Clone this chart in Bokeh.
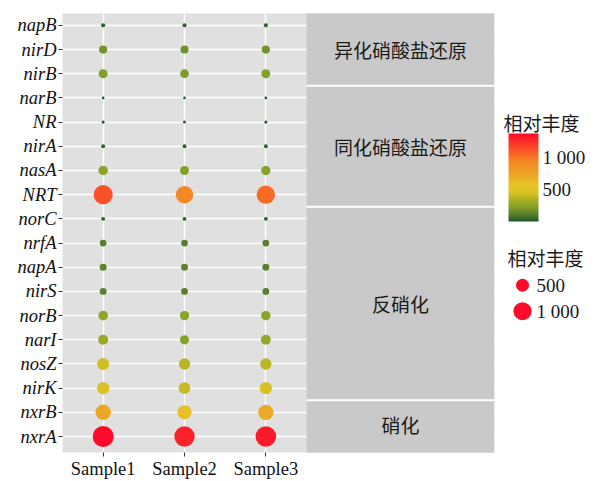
import numpy as np
from bokeh.plotting import figure
from bokeh.models import Range1d, FixedTicker, LinearColorMapper, ColorBar, ColumnDataSource
from bokeh.transform import transform
from bokeh.core.properties import value
from bokeh.embed import file_html
from bokeh.resources import INLINE

# ---------------- data ----------------
# genes listed bottom -> top
genes = ["nxrA", "nxrB", "nirK", "nosZ", "narI", "norB", "nirS", "napA", "nrfA",
         "norC", "NRT", "nasA", "nirA", "NR", "narB", "nirB", "nirD", "napB"]
samples = ["Sample1", "Sample2", "Sample3"]
sample1 = [1375, 720, 450, 420, 280, 260, 120, 125, 115, 30, 1130, 250, 30, 15, 10, 220, 180, 35]
sample2 = [1290, 600, 400, 370, 230, 240, 115, 120, 112, 28, 940, 215, 28, 14, 9, 205, 170, 33]
sample3 = [1320, 710, 440, 370, 270, 245, 115, 122, 114, 29, 1040, 240, 29, 15, 10, 215, 180, 34]
# groups bottom -> top
groups = ["硝化", "反硝化", "同化硝酸盐还原", "异化硝酸盐还原"]
group_sizes = [2, 8, 5, 3]
legend_title = "相对丰度"
legend_sizes = [500, 1000]
legend_size_labels = ["500", "1 000"]
colorbar_ticks = [500, 1000]
colorbar_labels = ["500", "1 000"]

# ---------------- styling ----------------
SERIF = "Liberation Serif"
CJK = "Noto Sans CJK SC"
stops = [(0.00, "#1d5a2b"), (0.08, "#5a7e2e"), (0.16, "#84a028"), (0.24, "#a8ae26"),
         (0.32, "#d8c225"), (0.42, "#e9c526"), (0.52, "#eca828"), (0.68, "#f58a25"),
         (0.80, "#f95a28"), (1.00, "#ff0a28")]


def hex2rgb(h):
    return [int(h[i:i + 2], 16) for i in (1, 3, 5)]


pos = [s[0] for s in stops]
rgb = np.array([hex2rgb(s[1]) for s in stops], dtype=float)
tt = np.linspace(0, 1, 256)
palette = ["#%02x%02x%02x" % tuple(int(round(np.interp(t, pos, rgb[:, k]))) for k in range(3)) for t in tt]

all_vals = sample1 + sample2 + sample3
vmin, vmax = 0, max(all_vals)


def size_of(v):
    return 1 + 20 * np.sqrt((np.asarray(v, dtype=float) - vmin) / (vmax - vmin))


mapper = LinearColorMapper(palette=palette, low=vmin, high=vmax)

# layout (canvas pixels of the plotting frame)
W, H = 595, 481
FL, FR, FT, FB = 62, 595, 13, 454
X0 = 0.5
X1 = 0.5 + (FR - FL) / (244 / 3)
Y0, Y1 = 0.34, 18.49


def px_x(px):
    return X0 + (px - FL) * (X1 - X0) / (FR - FL)


def px_y(py):
    return Y1 - (py - FT) * (Y1 - Y0) / (FB - FT)


p = figure(width=W, height=H, x_range=Range1d(X0, X1), y_range=Range1d(Y0, Y1),
           output_backend="svg", toolbar_location=None,
           min_border_left=FL, min_border_right=0, min_border_top=FT, min_border_bottom=H - FB)
p.background_fill_color = "white"
p.border_fill_color = "white"
p.outline_line_color = None

# grey panel behind the grid
strip_l = 3.5
strip_r = px_x(494)
p.quad(left=X0 - 1, right=strip_r, bottom=Y0 - 1, top=Y1 + 1, fill_color="#e0e0e0",
       line_color=None, level="underlay")

# axes
p.xaxis.ticker = FixedTicker(ticks=[1, 2, 3])
p.xaxis.major_label_overrides = {i + 1: s for i, s in enumerate(samples)}
p.yaxis.ticker = FixedTicker(ticks=list(range(1, len(genes) + 1)))
p.yaxis.major_label_overrides = {i + 1: g for i, g in enumerate(genes)}
for ax in (p.xaxis[0], p.yaxis[0]):
    ax.axis_line_color = None
    ax.major_tick_out = 4
    ax.major_tick_in = 0
    ax.major_tick_line_color = "#333333"
    ax.minor_tick_line_color = None
    ax.major_label_text_font = SERIF
    ax.major_label_text_font_size = "18.5px"
    ax.major_label_text_color = "#111111"
    ax.major_label_standoff = 2
p.yaxis.major_label_text_font_style = "italic"

p.xgrid.grid_line_color = "white"
p.ygrid.grid_line_color = "white"
p.xgrid.grid_line_width = 1.5
p.ygrid.grid_line_width = 1.5

# strip area + blank legend area
bottoms, tops, centers = [], [], []
start = 1
for gi, n in enumerate(group_sizes):
    lo, hi = start, start + n - 1
    bottoms.append(Y0 - 1 if gi == 0 else lo - 0.5)
    tops.append(Y1 + 1 if gi == len(group_sizes) - 1 else hi + 0.5)
    centers.append((lo + hi) / 2)
    start += n
p.quad(left=strip_l, right=strip_r, bottom=bottoms, top=tops, fill_color="#c9c9c9", line_color=None)
p.segment(x0=strip_l, x1=strip_r, y0=tops[:-1], y1=tops[:-1], line_color="white", line_width=2)
p.quad(left=strip_r, right=X1 + 1, bottom=Y0 - 1, top=Y1 + 1, fill_color="white", line_color=None)
p.text(x=(strip_l + strip_r) / 2, y=centers, text=groups, text_font=value(CJK),
       text_font_size="19px", text_align="center", text_baseline="middle", text_color="#1a1a1a")

# points
xs, ys, vs = [], [], []
for si, series in enumerate([sample1, sample2, sample3]):
    for gi, v in enumerate(series):
        xs.append(si + 1)
        ys.append(gi + 1)
        vs.append(v)
src = ColumnDataSource(dict(x=xs, y=ys, v=vs, s=size_of(vs)))
p.scatter(x="x", y="y", size="s", source=src, fill_color=transform("v", mapper), line_color=None)

# colour bar legend
p.text(x=px_x(503), y=px_y(122), text=[legend_title], text_font=value(CJK), text_font_size="19px",
       text_align="left", text_baseline="middle", text_color="#1a1a1a")
cb = ColorBar(color_mapper=mapper, location=(446, FB - 223), width=30, height=88, padding=0,
              ticker=FixedTicker(ticks=colorbar_ticks),
              major_label_overrides={t: l for t, l in zip(colorbar_ticks, colorbar_labels)},
              major_label_text_font=SERIF, major_label_text_font_size="19px",
              major_label_text_color="#1a1a1a", label_standoff=4,
              major_tick_line_color=None, minor_tick_line_color=None,
              bar_line_color=None, border_line_color=None, background_fill_alpha=0)
p.add_layout(cb)

# size legend
p.text(x=px_x(507), y=px_y(258), text=[legend_title], text_font=value(CJK), text_font_size="19px",
       text_align="left", text_baseline="middle", text_color="#1a1a1a")
ly = [px_y(286), px_y(312)]
p.scatter(x=[px_x(522)] * 2, y=ly, size=size_of(legend_sizes), fill_color="#ff0a28", line_color=None)
p.text(x=px_x(536), y=ly, text=legend_size_labels, text_font=value(SERIF), text_font_size="19px",
       text_align="left", text_baseline="middle", text_color="#1a1a1a")

open("out.html", "w").write(file_html(p, INLINE))
